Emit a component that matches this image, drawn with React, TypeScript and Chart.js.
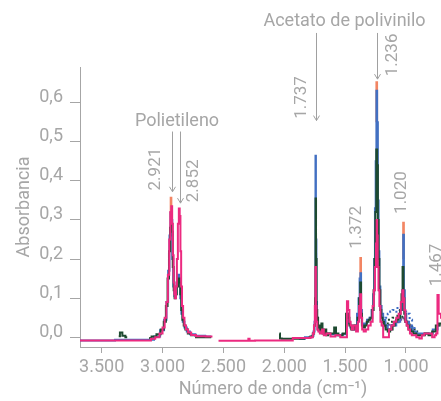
import React, { useEffect, useRef } from "react";
import { Chart, registerables } from "chart.js";

Chart.register(...registerables);

const FONT = "Roboto";
const GREY = "#a6a6a6";
const ARROW = "#a0a0a0";

const xTickValues = [3500, 3000, 2500, 2000, 1500, 1000];
const yTickValues = [0, 0.1, 0.2, 0.3, 0.4, 0.5, 0.6];

const xTitle = "Número de onda (cm⁻¹)";
const yTitle = "Absorbancia";

// Pink spectrum
const pinkWave = [3680, 3110, 3080, 3040, 3010, 2990, 2975, 2962, 2950, 2940, 2932, 2924, 2918, 2912, 2906, 2900, 2893, 2886, 2878, 2870, 2862, 2856, 2850, 2844, 2836, 2826, 2814, 2800, 2780, 2750, 2700, 2590, 2585, 2540, 2300, 2290, 2280, 2200, 2060, 1800, 1770, 1760, 1752, 1746, 1742, 1738, 1733, 1725, 1715, 1700, 1680, 1670, 1640, 1600, 1560, 1520, 1490, 1480, 1470, 1460, 1450, 1440, 1420, 1400, 1390, 1380, 1372, 1365, 1355, 1340, 1320, 1300, 1280, 1268, 1260, 1250, 1243, 1239, 1235, 1230, 1222, 1215, 1205, 1195, 1180, 1150, 1130, 1110, 1090, 1070, 1050, 1035, 1025, 1018, 1010, 1000, 990, 975, 960, 945, 930, 900, 880, 860, 840, 800, 770, 760, 745, 738, 725, 700, 650, 600, 520];
const pinkAbs = [-0.008, -0.008, -0.004, 0.0, 0.01, 0.025, 0.05, 0.09, 0.16, 0.25, 0.32, 0.335, 0.29, 0.21, 0.14, 0.11, 0.1, 0.13, 0.2, 0.29, 0.329, 0.31, 0.22, 0.13, 0.08, 0.05, 0.03, 0.02, 0.012, 0.006, 0.003, 0.002, null, -0.009, -0.009, -0.004, -0.009, -0.008, -0.008, -0.002, 0.0, 0.01, 0.03, 0.08, 0.18, 0.08, 0.04, 0.02, 0.015, 0.01, 0.02, 0.005, 0.01, 0.002, 0.005, 0.0, 0.0, 0.092, 0.07, 0.04, 0.03, 0.02, 0.03, 0.015, 0.04, 0.08, 0.11, 0.05, 0.02, 0.015, 0.02, 0.03, 0.04, 0.08, 0.12, 0.18, 0.24, 0.3, 0.26, 0.18, 0.12, 0.08, 0.04, 0.03, 0.0, 0.0, 0.02, 0.03, 0.04, 0.05, 0.06, 0.09, 0.12, 0.1, 0.07, 0.04, 0.03, 0.02, 0.01, 0.005, 0.005, 0.0, -0.003, 0.005, 0.01, 0.01, 0.0, 0.005, 0.01, 0.108, 0.06, 0.05, 0.04, 0.03, 0.03];

// Dark green spectrum
const greenWave = [3360, 3340, 3320, 3290, 3260, 3220, 3200, 3110, 3070, 3030, 3000, 2980, 2965, 2952, 2942, 2934, 2927, 2920, 2912, 2905, 2897, 2888, 2878, 2866, 2858, 2850, 2842, 2832, 2820, 2805, 2780, 2750, 2700, 2600, 2590, 2060, 2040, 2030, 2010, 1830, 1820, 1800, 1770, 1760, 1750, 1745, 1741, 1737, 1732, 1726, 1718, 1710, 1700, 1690, 1682, 1660, 1650, 1630, 1600, 1580, 1570, 1540, 1500, 1485, 1470, 1460, 1440, 1425, 1405, 1390, 1380, 1372, 1366, 1358, 1345, 1330, 1315, 1300, 1285, 1270, 1262, 1255, 1248, 1240, 1234, 1228, 1222, 1215, 1207, 1198, 1188, 1175, 1160, 1140, 1120, 1100, 1085, 1070, 1055, 1042, 1032, 1024, 1018, 1010, 1000, 985, 970, 950, 930, 900, 860, 830, 800, 770, 740, 720, 700];
const greenAbs = [0.003, 0.012, 0.004, 0.0, null, -0.002, null, -0.002, 0.002, 0.008, 0.02, 0.04, 0.08, 0.15, 0.22, 0.28, 0.3, 0.27, 0.18, 0.12, 0.1, 0.11, 0.13, 0.15, 0.14, 0.11, 0.07, 0.045, 0.03, 0.02, 0.01, 0.005, 0.0, 0.0, null, null, 0.01, -0.003, -0.004, -0.004, null, 0.0, 0.002, 0.01, 0.03, 0.1, 0.355, 0.2, 0.07, 0.05, 0.02, 0.03, 0.015, 0.035, 0.01, 0.02, 0.005, 0.01, 0.01, 0.025, 0.01, 0.005, 0.01, 0.06, 0.05, 0.03, 0.02, 0.03, 0.02, 0.05, 0.1, 0.14, 0.06, 0.03, 0.025, 0.03, 0.04, 0.045, 0.05, 0.07, 0.12, 0.2, 0.32, 0.48, 0.44, 0.3, 0.2, 0.12, 0.07, 0.05, 0.04, 0.03, 0.02, 0.015, 0.02, 0.03, 0.04, 0.045, 0.05, 0.07, 0.11, 0.18, 0.1, 0.06, 0.04, 0.03, 0.02, 0.015, 0.01, 0.005, 0.005, 0.01, 0.005, 0.015, 0.03, 0.035, 0.03];

// Blue spectrum
const blueWave = [3680, 3100, 3040, 3000, 2975, 2960, 2948, 2938, 2930, 2924, 2916, 2908, 2898, 2890, 2880, 2868, 2858, 2850, 2840, 2828, 2812, 2790, 2760, 2700, 2600, 2590, 1880, 1780, 1765, 1755, 1748, 1745, 1742, 1738, 1734, 1728, 1720, 1700, 1650, 1600, 1550, 1500, 1485, 1475, 1465, 1450, 1430, 1410, 1395, 1385, 1377, 1372, 1366, 1358, 1345, 1330, 1310, 1290, 1275, 1265, 1258, 1252, 1246, 1240, 1234, 1228, 1222, 1215, 1206, 1195, 1180, 1160, 1140, 1100, 1060, 1035, 1026, 1020, 1014, 1005, 990, 960, 930, 900, 860, 800, 760, 720];
const blueAbs = [-0.008, -0.006, 0.002, 0.018, 0.045, 0.09, 0.17, 0.26, 0.318, 0.3, 0.2, 0.13, 0.105, 0.11, 0.14, 0.16, 0.15, 0.1, 0.06, 0.04, 0.025, 0.015, 0.008, 0.004, 0.002, null, -0.004, 0.0, 0.004, 0.015, 0.04, 0.09, 0.464, 0.25, 0.09, 0.05, 0.02, 0.015, 0.01, 0.008, 0.005, 0.008, 0.05, 0.06, 0.035, 0.025, 0.02, 0.03, 0.06, 0.1, 0.15, 0.164, 0.07, 0.035, 0.03, 0.035, 0.045, 0.05, 0.07, 0.11, 0.2, 0.33, 0.45, 0.63, 0.55, 0.35, 0.22, 0.13, 0.08, 0.06, 0.045, 0.03, 0.02, 0.03, 0.04, 0.07, 0.12, 0.262, 0.12, 0.06, 0.04, 0.025, 0.015, 0.01, 0.01, 0.01, 0.02, 0.03];

// Orange spectrum (only the tips of the main bands show)
const orangeWave = [2936, 2930, 2925, 2920, 1246, 1240, 1235, 1230, 1378, 1372, 1367, 1360, 1026, 1020, 1015];
const orangeAbs = [0.28, 0.357, 0.28, null, 0.55, 0.652, 0.55, null, 0.14, 0.203, 0.14, null, 0.2, 0.293, 0.2];

// Dotted spectra in the 1200-900 region
const dotBlueWave = [1180, 1160, 1140, 1120, 1100, 1080, 1060, 1045, 1030, 1010, 995, 980, 960, 940, 920];
const dotBlueAbs = [0.04, 0.05, 0.06, 0.066, 0.07, 0.065, 0.075, 0.07, 0.08, 0.07, 0.066, 0.06, 0.045, 0.03, 0.02];
const dotGreenWave = [1200, 1180, 1160, 1140, 1120, 1100, 1080, 1060, 1040, 1020, 1000, 980, 960, 940, 920, 900];
const dotGreenAbs = [0.05, 0.035, 0.03, 0.045, 0.04, 0.05, 0.045, 0.055, 0.06, 0.05, 0.045, 0.04, 0.03, 0.025, 0.02, 0.015];
const dotPurpleWave = [1200, 1170, 1150, 1130, 1110, 1090, 1070, 1050, 1030, 1010, 990, 970, 950, 930];
const dotPurpleAbs = [0.03, 0.025, 0.02, 0.035, 0.03, 0.04, 0.035, 0.045, 0.05, 0.04, 0.035, 0.03, 0.02, 0.015];

// Annotations
const groupLabels = ["Polietileno", "Acetato de polivinilo"];
const groupWave = [2881, 1505];
const groupAbs = [0.551, 0.808];
const arrowWave = [2925, 2858, 1742, 1240];
const arrowTopAbs = [0.526, 0.526, 0.778, 0.778];
const arrowTipAbs = [0.372, 0.343, 0.554, 0.66];
const peakLabels = ["2.921", "2.852", "1.737", "1.236", "1.372", "1.020", "1.467"];
const peakLabelWave = [3054, 2742, 1857, 1106, 1405, 1035, 747];
const peakLabelAbs = [0.43, 0.4, 0.613, 0.722, 0.281, 0.37, 0.185];

const zip = (w: number[], a: (number | null)[]) => w.map((x, i) => ({ x, y: a[i] }));

const fmtThousands = (v: number) => String(v).replace(/\B(?=(\d{3})+(?!\d))/g, ".");

const annotationPlugin = {
  id: "spectrumAnnotations",
  afterDraw(chart: any) {
    const { ctx, scales } = chart;
    const xs = scales.x;
    const ys = scales.y;
    ctx.save();
    ctx.fillStyle = GREY;
    ctx.textAlign = "center";
    ctx.textBaseline = "middle";
    ctx.font = `18px ${FONT}`;
    groupLabels.forEach((t, i) => {
      ctx.fillText(t, xs.getPixelForValue(groupWave[i]), ys.getPixelForValue(groupAbs[i]));
    });
    ctx.strokeStyle = ARROW;
    ctx.lineWidth = 1;
    arrowWave.forEach((w, i) => {
      const px = Math.round(xs.getPixelForValue(w)) + 0.5;
      const y1 = ys.getPixelForValue(arrowTopAbs[i]);
      const y2 = ys.getPixelForValue(arrowTipAbs[i]);
      ctx.beginPath();
      ctx.moveTo(px, y1);
      ctx.lineTo(px, y2);
      ctx.moveTo(px - 3, y2 - 5);
      ctx.lineTo(px, y2);
      ctx.lineTo(px + 3, y2 - 5);
      ctx.stroke();
    });
    ctx.font = `17px ${FONT}`;
    peakLabels.forEach((t, i) => {
      ctx.save();
      ctx.translate(xs.getPixelForValue(peakLabelWave[i]), ys.getPixelForValue(peakLabelAbs[i]));
      ctx.rotate(-Math.PI / 2);
      ctx.fillText(t, 0, 0);
      ctx.restore();
    });
    ctx.restore();
  },
};

export default function App() {
  const ref = useRef<HTMLCanvasElement | null>(null);
  useEffect(() => {
    if (!ref.current) return;
    Chart.defaults.font.family = FONT;
    const line = (data: any, color: string, extra: any = {}) => ({
      data,
      borderColor: color,
      backgroundColor: color,
      borderWidth: 2,
      pointRadius: 0,
      stepped: "middle",
      tension: 0,
      spanGaps: false,
      ...extra,
    });
    const chart = new Chart(ref.current, {
      type: "line",
      data: {
        datasets: [
          line(zip(pinkWave, pinkAbs), "#ec2a80"),
          line(zip(greenWave, greenAbs), "#1d4a30"),
          line(zip(blueWave, blueAbs), "#4270c2"),
          line(zip(orangeWave, orangeAbs), "#f28563"),
          line(zip(dotBlueWave, dotBlueAbs), "#3f6fc4", { borderDash: [2, 3] }),
          line(zip(dotGreenWave, dotGreenAbs), "#1d4a30", { borderDash: [2, 3] }),
          line(zip(dotPurpleWave, dotPurpleAbs), "#7a4aa0", { borderDash: [2, 3] }),
        ] as any,
      },
      options: {
        animation: false,
        responsive: false,
        devicePixelRatio: 1,
        layout: { padding: { top: 67, right: 14, left: 0, bottom: 0 } },
        plugins: { legend: { display: false }, tooltip: { enabled: false } },
        scales: {
          x: {
            type: "linear",
            reverse: true,
            min: 507,
            max: 3678,
            afterFit: (axis: any) => {
              axis.height = 54;
            },
            afterBuildTicks: (axis: any) => {
              axis.ticks = xTickValues.map((v) => ({ value: v }));
            },
            grid: { drawOnChartArea: false, drawTicks: true, tickLength: 6, color: GREY },
            border: { display: true, color: GREY, width: 1 },
            ticks: {
              color: GREY,
              font: { size: 18, family: FONT },
              padding: 4,
              maxRotation: 0,
              autoSkip: false,
              callback: (v: any) => fmtThousands(Number(v)),
            },
            title: {
              display: true,
              text: xTitle,
              color: GREY,
              font: { size: 18, family: FONT },
              padding: { top: 0, bottom: 1 },
            },
          },
          y: {
            type: "linear",
            min: -0.0248,
            max: 0.691,
            afterFit: (axis: any) => {
              axis.width = 80;
            },
            afterBuildTicks: (axis: any) => {
              axis.ticks = yTickValues.map((v) => ({ value: v }));
            },
            grid: { drawOnChartArea: false, drawTicks: true, tickLength: 10, color: GREY },
            border: { display: true, color: GREY, width: 1 },
            ticks: {
              color: GREY,
              font: { size: 18, family: FONT },
              padding: 7,
              labelOffset: -5,
              autoSkip: false,
              callback: (v: any) => Number(v).toFixed(1).replace(".", ","),
            },
            title: {
              display: true,
              text: yTitle,
              color: GREY,
              font: { size: 18, family: FONT },
              padding: { top: 14, bottom: 0 },
            },
          },
        },
      },
      plugins: [annotationPlugin],
    });
    return () => chart.destroy();
  }, []);

  return (
    <div style={{ position: "fixed", left: 0, top: 0, width: 441, height: 401, overflow: "hidden", background: "#fff" }}>
      <canvas ref={ref} width={480} height={401} style={{ display: "block", width: 480, height: 401 }} />
    </div>
  );
}
